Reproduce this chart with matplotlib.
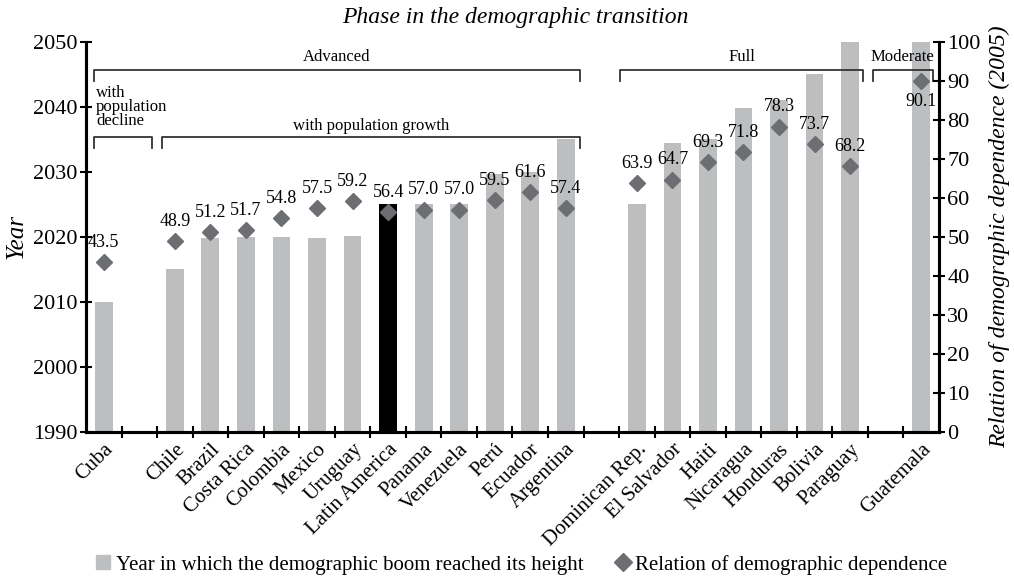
import numpy as np
import matplotlib.pyplot as plt
from matplotlib.lines import Line2D
import matplotlib.transforms as mtransforms

plt.rcParams['font.family'] = ['Liberation Serif', 'DejaVu Serif']

# slots (empty strings are the gaps between groups)
paises = ['Cuba', '', 'Chile', 'Brazil', 'Costa Rica', 'Colombia', 'Mexico', 'Uruguay',
          'Latin America', 'Panama', 'Venezuela', 'Perú', 'Ecuador', 'Argentina', '',
          'Dominican Rep.', 'El Salvador', 'Haiti', 'Nicaragua', 'Honduras', 'Bolivia',
          'Paraguay', '', 'Guatemala']
anio_auge = [2010, None, 2015, 2019.8, 2020, 2020, 2019.8, 2020.2, 2025, 2025, 2025, 2029.7,
             2030, 2035, None, 2025, 2034.5, 2035, 2039.8, 2041, 2045, 2050, None, 2050]
dependencia = [43.5, None, 48.9, 51.2, 51.7, 54.8, 57.5, 59.2, 56.4, 57.0, 57.0, 59.5, 61.6,
               57.4, None, 63.9, 64.7, 69.3, 71.8, 78.3, 73.7, 68.2, None, 90.1]

gris = '#bcbec0'
gris_osc = '#6d6e71'

fig = plt.figure(figsize=(10.14, 5.81), dpi=100)
ax = fig.add_axes([0.0848, 0.257, 0.8412, 0.6707])
ax2 = ax.twinx()

x = np.arange(len(paises))
for i, a in enumerate(anio_auge):
    if a is None:
        continue
    color = 'black' if paises[i] == 'Latin America' else gris
    ax.bar(i, a - 1990, bottom=1990, width=0.5, color=color, zorder=2)

ax.set_xlim(-0.5, len(paises) - 0.5)
ax.set_ylim(1990, 2050)
ax.set_yticks(range(1990, 2051, 10))
ax2.set_ylim(0, 100)
ax2.set_yticks(range(0, 101, 10))

# diamonds and labels
for i, d in enumerate(dependencia):
    if d is None:
        continue
    ax2.plot(i, d, marker='D', color=gris_osc, markersize=8.5, linestyle='none', zorder=3)
    if paises[i] == 'Guatemala':
        ax2.annotate(f'{d:.1f}', (i, d), xytext=(0, -9), textcoords='offset points',
                     ha='center', va='top', fontsize=13)
    else:
        ax2.annotate(f'{d:.1f}', (i, d), xytext=(0, 8), textcoords='offset points',
                     ha='center', va='bottom', fontsize=13)

# x ticks: marks at slot boundaries, labels at slot centres
ax.set_xticks(np.arange(0.5, len(paises) - 1, 1.0))
ax.set_xticklabels([])
ax.set_xticks(x, minor=True)
ax.set_xticklabels(paises, minor=True, rotation=45, ha='right', rotation_mode='anchor',
                   fontsize=15)
ax.tick_params(axis='x', which='minor', length=0, pad=6)
ax.tick_params(axis='x', which='major', direction='inout', length=8, width=1.5)
ax.tick_params(axis='y', direction='inout', length=8, width=1.5, labelsize=16, pad=2)
ax2.tick_params(axis='y', direction='inout', length=8, width=1.5, labelsize=16, pad=2)

for a in (ax, ax2):
    a.spines['top'].set_visible(False)
    for s in ('left', 'right', 'bottom'):
        a.spines[s].set_linewidth(2.2)

ax.set_ylabel('Year', fontstyle='italic', fontsize=18, labelpad=4)
ax2.set_ylabel('Relation of demographic dependence (2005)', fontstyle='italic',
               fontsize=17, labelpad=6)

fig.text(0.508, 0.97, 'Phase in the demographic transition', fontstyle='italic',
         fontsize=17, ha='center', va='center')

# group brackets
trans = mtransforms.blended_transform_factory(ax.transData, ax.transAxes)

def llave(x0, x1, y, texto=None, ty=None, alto=0.027):
    ax.plot([x0, x0, x1, x1], [y - alto, y, y, y - alto], color='#333333', lw=1.3,
            transform=trans, clip_on=False, zorder=4)
    if texto:
        ax.text((x0 + x1) / 2, ty, texto, ha='center', va='center', fontsize=12,
                transform=trans)

llave(-0.27, 13.4, 0.928, 'Advanced', 0.961)
llave(14.53, 21.36, 0.928, 'Full', 0.961)
llave(21.64, 23.33, 0.928, 'Moderate', 0.961)
llave(-0.27, 1.36, 0.756)
llave(1.64, 13.4, 0.756, 'with population growth', 0.785)
ax.text(-0.22, 0.89, 'with\npopulation\ndecline', ha='left', va='top', fontsize=12,
        linespacing=0.85, transform=trans)

handles = [Line2D([], [], marker='s', color=gris, linestyle='none', markersize=10),
           Line2D([], [], marker='D', color=gris_osc, linestyle='none', markersize=9)]
fig.legend(handles, ['Year in which the demographic boom reached its height',
                     'Relation of demographic dependence'],
           loc='center', bbox_to_anchor=(0.513, 0.028), ncol=2, frameon=False,
           fontsize=15, handletextpad=0.1, columnspacing=1.4, handlelength=1)

fig.savefig('out.png', dpi=100)
